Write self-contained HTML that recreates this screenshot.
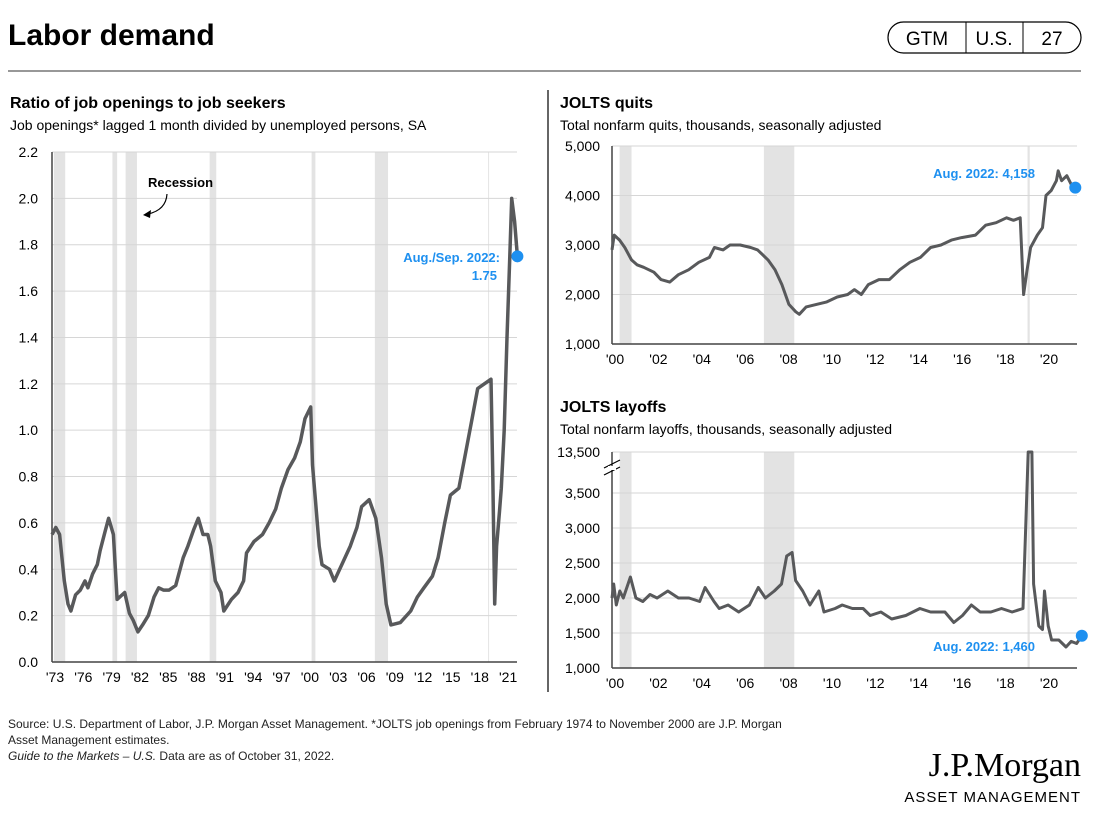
<!DOCTYPE html>
<html><head><meta charset="utf-8"><style>
body{margin:0;background:#fff;font-family:"Liberation Sans",Arial,sans-serif;}
svg text{font-family:"Liberation Sans",Arial,sans-serif;}
</style></head><body>
<svg id="s" width="1100" height="820" viewBox="0 0 1100 820" xmlns="http://www.w3.org/2000/svg">
<text x="8" y="45" font-size="30" font-weight="bold" fill="#000">Labor demand</text>
<line x1="8" y1="71" x2="1081" y2="71" stroke="#777" stroke-width="1.5"/>
<g>
<rect x="888" y="22" width="193" height="31" rx="15.5" fill="#fff" stroke="#000" stroke-width="1.2"/>
<line x1="966" y1="22" x2="966" y2="53" stroke="#000"/><line x1="1023" y1="22" x2="1023" y2="53" stroke="#000"/>
<text x="927" y="45" font-size="19" text-anchor="middle">GTM</text>
<text x="994" y="45" font-size="19" text-anchor="middle">U.S.</text>
<text x="1052" y="45" font-size="19" text-anchor="middle">27</text>
</g>
<line x1="548" y1="90" x2="548" y2="692" stroke="#000" stroke-width="1.2"/>
<text x="10" y="108" font-size="16" font-weight="bold">Ratio of job openings to job seekers</text>
<text x="10" y="130" font-size="14">Job openings* lagged 1 month divided by unemployed persons, SA</text>
<text x="560" y="108" font-size="16" font-weight="bold">JOLTS quits</text>
<text x="560" y="130" font-size="14">Total nonfarm quits, thousands, seasonally adjusted</text>
<text x="560" y="412" font-size="16" font-weight="bold">JOLTS layoffs</text>
<text x="560" y="434" font-size="14">Total nonfarm layoffs, thousands, seasonally adjusted</text>
<g id="left"></g><g id="quits"></g><g id="lay"></g>
<g font-size="12" fill="#222">
<text x="8" y="728">Source: U.S. Department of Labor, J.P. Morgan Asset Management. *JOLTS job openings from February 1974 to November 2000 are J.P. Morgan</text>
<text x="8" y="744">Asset Management estimates.</text>
<text x="8" y="760"><tspan font-style="italic">Guide to the Markets – U.S.</tspan> Data are as of October 31, 2022.</text>
</g>
<text x="1081" y="776" font-size="34" text-anchor="end" font-family="Liberation Serif,serif" style="font-family:'Liberation Serif',serif">J.P.Morgan</text>
<text x="1081" y="802" font-size="15" text-anchor="end" letter-spacing="1">ASSET MANAGEMENT</text>
</svg>
<script>
// ---- Ratio chart data ----
const ratioYears=[1973.0,1973.4,1973.8,1974.3,1974.7,1975.0,1975.5,1976.0,1976.5,1976.8,1977.3,1977.8,1978.1,1978.6,1979.0,1979.5,1979.9,1980.7,1981.2,1981.6,1982.1,1982.6,1983.2,1983.8,1984.3,1984.8,1985.4,1986.1,1986.9,1987.4,1988.0,1988.5,1989.0,1989.5,1989.8,1990.3,1990.9,1991.2,1992.0,1992.7,1993.3,1993.6,1994.4,1995.3,1996.0,1996.7,1997.3,1998.0,1998.7,1999.3,1999.8,2000.4,2000.6,2000.9,2001.3,2001.6,2002.4,2002.9,2003.7,2004.6,2005.3,2005.8,2006.6,2007.3,2007.9,2008.4,2008.9,2009.9,2011.0,2011.7,2012.4,2013.3,2013.9,2014.6,2015.2,2016.1,2016.8,2017.5,2018.1,2018.8,2019.5,2019.7,2019.9,2020.1,2020.4,2020.6,2020.9,2021.2,2021.5,2021.7,2022.0,2022.3];
const ratioValues=[0.55,0.58,0.55,0.35,0.25,0.22,0.29,0.31,0.35,0.32,0.38,0.42,0.48,0.56,0.62,0.55,0.27,0.30,0.21,0.18,0.13,0.16,0.20,0.28,0.32,0.31,0.31,0.33,0.45,0.50,0.57,0.62,0.55,0.55,0.50,0.35,0.30,0.22,0.27,0.30,0.35,0.47,0.52,0.55,0.60,0.66,0.75,0.83,0.88,0.95,1.05,1.10,0.85,0.70,0.50,0.42,0.40,0.35,0.42,0.50,0.58,0.67,0.70,0.62,0.45,0.25,0.16,0.17,0.22,0.28,0.32,0.37,0.45,0.60,0.72,0.75,0.90,1.05,1.18,1.20,1.22,0.80,0.25,0.50,0.65,0.75,1.00,1.40,1.75,2.00,1.90,1.75];
const ratioTicks=[0,0.2,0.4,0.6,0.8,1.0,1.2,1.4,1.6,1.8,2.0,2.2];
const ratioXLabels=["'73","'76","'79","'82","'85","'88","'91","'94","'97","'00","'03","'06","'09","'12","'15","'18","'21"];
const ratioRecStart=[1973.2,1979.4,1980.8,1989.7,2000.5,2007.2,2019.2];
const ratioRecEnd=[1974.4,1979.9,1982.0,1990.4,2000.9,2008.6,2019.3];
// ---- Quits data ----
const quitsYears=[2000.0,2000.1,2000.35,2000.59,2000.9,2001.15,2001.46,2001.93,2002.26,2002.66,2003.06,2003.53,2004.0,2004.49,2004.72,2005.12,2005.44,2005.91,2006.39,2006.71,2007.19,2007.51,2007.83,2008.15,2008.47,2008.63,2008.95,2009.42,2009.9,2010.38,2010.86,2011.17,2011.49,2011.81,2012.3,2012.78,2013.26,2013.73,2014.21,2014.68,2015.16,2015.64,2016.11,2016.75,2017.22,2017.7,2018.18,2018.5,2018.81,2018.97,2019.13,2019.29,2019.6,2019.84,2020.0,2020.24,2020.48,2020.56,2020.72,2020.96,2021.19,2021.35];
const quitsValues=[2900,3200,3100,2950,2700,2600,2550,2450,2300,2250,2400,2500,2650,2750,2950,2900,3000,3000,2950,2900,2700,2500,2200,1800,1650,1600,1750,1800,1850,1950,2000,2100,2000,2200,2300,2300,2500,2650,2750,2950,3000,3100,3150,3200,3400,3450,3550,3500,3550,2000,2500,2950,3200,3350,4000,4100,4300,4500,4300,4400,4200,4158];
const quitsTicks=[1000,2000,3000,4000,5000];
// ---- Layoffs data ----
const layYears=[2000.0,2000.08,2000.2,2000.36,2000.52,2000.85,2001.1,2001.42,2001.75,2002.08,2002.57,2003.06,2003.55,2004.04,2004.29,2004.7,2004.94,2005.35,2005.84,2006.33,2006.74,2007.07,2007.48,2007.81,2008.05,2008.3,2008.46,2008.79,2009.12,2009.53,2009.77,2010.28,2010.61,2011.08,2011.57,2011.9,2012.39,2012.89,2013.54,2014.19,2014.68,2015.34,2015.75,2016.15,2016.56,2016.97,2017.46,2017.95,2018.44,2018.94,2019.18,2019.35,2019.43,2019.67,2019.84,2019.93,2020.1,2020.26,2020.59,2020.92,2021.16,2021.41,2021.65];
const layValues=[2000,2200,1900,2100,2000,2300,2000,1950,2050,2000,2100,2000,2000,1950,2150,1950,1850,1900,1800,1900,2150,2000,2100,2200,2600,2650,2250,2100,1900,2100,1800,1850,1900,1850,1850,1750,1800,1700,1750,1850,1800,1800,1650,1750,1900,1800,1800,1850,1800,1850,13500,13500,2200,1600,1550,2100,1600,1400,1400,1300,1380,1350,1460];
const layTicks=[1000,1500,2000,2500,3000,3500];
const rightXLabels=["'00","'02","'04","'06","'08","'10","'12","'14","'16","'18","'20"];
const rightXYears=[2000,2002,2004,2006,2008,2010,2012,2014,2016,2018,2020];
const rightRecStart=[2000.35,2007.0,2019.15];
const rightRecEnd=[2000.9,2008.4,2019.25];

const NS="http://www.w3.org/2000/svg";
function mk(p,tag,a){const e=document.createElementNS(NS,tag);for(const k in a)e.setAttribute(k,a[k]);p.appendChild(e);return e;}
function path(xs,ys,fx,fy){return xs.map((x,i)=>(i?'L':'M')+fx(x).toFixed(1)+','+fy(ys[i]).toFixed(1)).join('');}

// LEFT
(function(){
const g=document.getElementById('left');
const X0=52,X1=517,Y0=662,Y1=152;
const x=y=>X0+(y-1973)*9.44; const yv=v=>Y0-(v/2.2)*(Y0-Y1);
ratioRecStart.forEach((s,i)=>{const r=mk(g,'rect',{x:x(s),y:Y1,width:x(ratioRecEnd[i])-x(s),height:Y0-Y1,fill:'#e3e3e3'});

});
ratioTicks.forEach(t=>{if(t>0){const l=mk(g,'line',{x1:X0,x2:X1,y1:yv(t),y2:yv(t),stroke:'#d6d6d6','stroke-width':1});

}
const tx=mk(g,'text',{x:38,y:yv(t)+5,'font-size':14,'text-anchor':'end'});tx.textContent=t.toFixed(1);

});
mk(g,'line',{x1:X0,x2:X0,y1:Y1,y2:Y0,stroke:'#444','stroke-width':1.5});
mk(g,'line',{x1:X0,x2:X1,y1:Y0,y2:Y0,stroke:'#444','stroke-width':1.5});
ratioXLabels.forEach((lb,i)=>{const t=mk(g,'text',{x:x(1973+3*i)+3,y:682,'font-size':14,'text-anchor':'middle'});t.textContent=lb;

});
const p=mk(g,'path',{d:path(ratioYears,ratioValues,x,yv),fill:'none',stroke:'#58595b','stroke-width':3.5,'stroke-linejoin':'round'});


const n=ratioYears.length-1;
const c=mk(g,'circle',{cx:x(ratioYears[n]),cy:yv(ratioValues[n]),r:6,fill:'#1e90f0'});


const a=mk(g,'text',{x:500,y:262,'font-size':13,'font-weight':'bold',fill:'#1e90f0','text-anchor':'end'});a.textContent='Aug./Sep.  2022:';


const a2=mk(g,'text',{x:497,y:280,'font-size':13,'font-weight':'bold',fill:'#1e90f0','text-anchor':'end'});a2.textContent='1.75';


const r=mk(g,'text',{x:148,y:187,'font-size':13,'font-weight':'bold'});r.textContent='Recession';


const ar=mk(g,'path',{d:'M167,194 Q166,210 148,214',fill:'none',stroke:'#000','stroke-width':1.2});


mk(g,'path',{d:'M143,215 L151,210 L150,218 Z',fill:'#000'});
})();

function right(id,ticks,years,vals,Y1,Y0,yv,lblFn,latestText,annX,annY,annAnchor,names){
const g=document.getElementById(id);
const X0=612,X1=1077;const x=y=>X0+(y-2000)*21.7;
rightRecStart.forEach((s,i)=>{const r=mk(g,'rect',{x:x(s),y:Y1,width:x(rightRecEnd[i])-x(s),height:Y0-Y1,fill:'#e3e3e3'});

});
ticks.forEach(t=>{if(t>ticks[0]){const l=mk(g,'line',{x1:X0,x2:X1,y1:yv(t),y2:yv(t),stroke:'#d6d6d6'});

}
const tx=mk(g,'text',{x:600,y:yv(t)+5,'font-size':14,'text-anchor':'end'});tx.textContent=t.toLocaleString('en-US');

});
mk(g,'line',{x1:X0,x2:X0,y1:Y1,y2:Y0,stroke:'#444','stroke-width':1.5});
mk(g,'line',{x1:X0,x2:X1,y1:Y0,y2:Y0,stroke:'#444','stroke-width':1.5});
rightXLabels.forEach((lb,i)=>{const t=mk(g,'text',{x:x(rightXYears[i])+3,y:Y0+20,'font-size':14,'text-anchor':'middle'});t.textContent=lb;

});
const p=mk(g,'path',{d:path(years,vals,x,yv),fill:'none',stroke:'#58595b','stroke-width':3,'stroke-linejoin':'round'});


const n=years.length-1;
const c=mk(g,'circle',{cx:x(years[n]),cy:yv(vals[n]),r:6,fill:'#1e90f0'});


const a=mk(g,'text',{x:annX,y:annY,'font-size':13,'font-weight':'bold',fill:'#1e90f0','text-anchor':annAnchor});a.textContent=latestText;


return g;}
right('quits',quitsTicks,quitsYears,quitsValues,146,344,v=>344-(v-1000)/4000*198,null,'Aug. 2022: 4,158',1035,178,'end','quits');
const lg=right('lay',layTicks.concat([13500]),layYears,layValues,452,668,v=>v<=3500?668-(v-1000)/500*35:493-(v-3500)/10000*41,null,'Aug. 2022: 1,460',1035,651,'end','layoffs');
const br=mk(lg,'path',{d:'M604,468 L620,460 M604,475 L620,467',stroke:'#000','stroke-width':1.2,fill:'none'});


mk(lg,'rect',{x:608,y:466,width:8,height:4,fill:'#fff'});
</script>
</body></html>
